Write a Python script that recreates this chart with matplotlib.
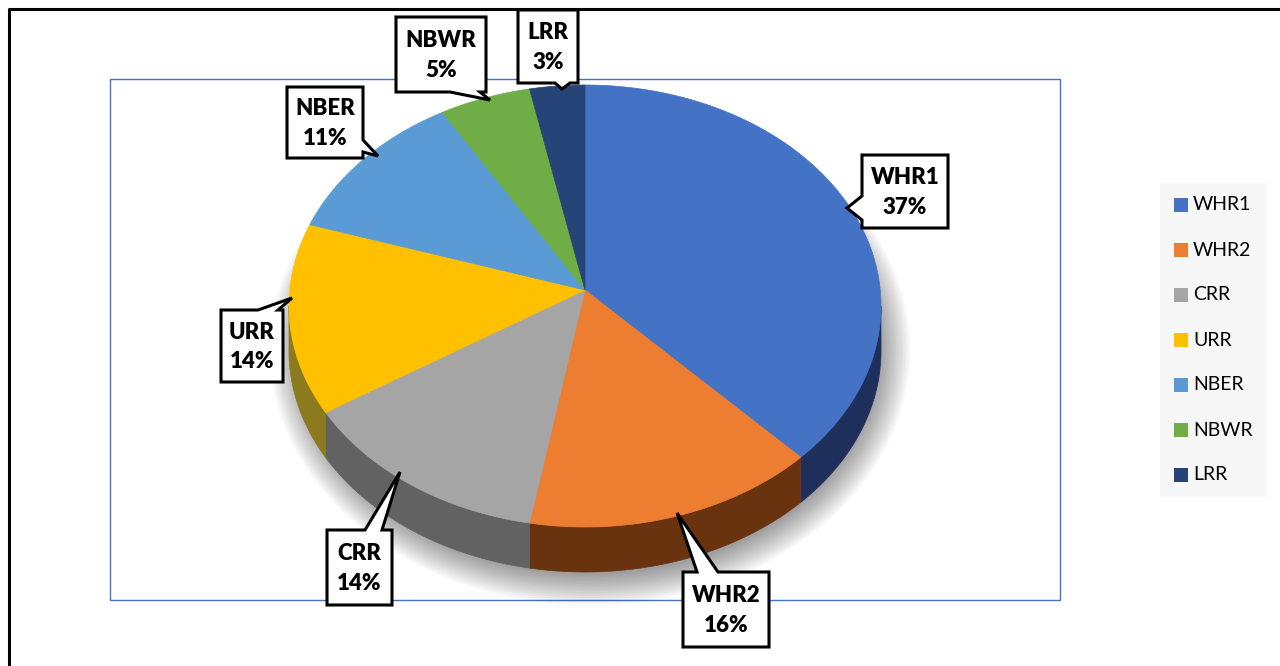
import numpy as np
import matplotlib.pyplot as plt
from matplotlib.patches import Polygon, Ellipse, Rectangle

# data
labels = ["WHR1", "WHR2", "CRR", "URR", "NBER", "NBWR", "LRR"]
values = [37, 16, 14, 14, 11, 5, 3]
colors = ["#4472C4", "#ED7D31", "#A5A5A5", "#FFC000", "#5B9BD5", "#70AD47", "#264478"]
side_colors = ["#1E2F5C", "#6A3310", "#626262", "#8C7A1E", "#2F5C86", "#3E6628", "#14243F"]

# callout layout: box (x0, y0, x1, y1), side with pointer, base (a, b), tip
callouts = [
    ((862, 155, 948, 228), "left", (196, 220), (847, 208)),
    ((683, 572, 769, 647), "top", (697, 718), (677, 513)),
    ((327, 530, 392, 605), "top", (365, 382), (400, 472)),
    ((221, 310, 283, 382), "top", (258, 278), (292, 298)),
    ((287, 87, 363, 158), "right", (140, 152), (378, 156)),
    ((396, 17, 486, 92), "bottom", (450, 480), (490, 100)),
    ((518, 10, 578, 83), "bottom", (555, 570), (562, 89)),
]

fig = plt.figure(figsize=(12.8, 6.66), dpi=100)
ax = fig.add_axes([0, 0, 1, 1])
ax.set_xlim(0, 1280)
ax.set_ylim(666, 0)
ax.axis("off")

# frames
ax.plot([9, 9, 1280], [666, 9, 9], color="black", lw=2.2, zorder=1)
ax.add_patch(Rectangle((110, 79), 950, 521, fill=False, ec="#4472C4", lw=1, zorder=1))

# pie geometry (apex sits a bit above ellipse centre for perspective)
cx, cy, rx, ry, depth = 585, 306, 296, 221, 45
apex_y = 290

# soft shadow
for k in range(14):
    f = k / 13
    ax.add_patch(Ellipse((590, 350), 2 * (320 - 30 * f), 2 * (255 - 30 * f),
                         color="black", alpha=0.03, lw=0, zorder=2))


def pt(t, dy=0):
    return cx + rx * np.sin(t), cy - ry * np.cos(t) + dy


total = sum(values)
bounds = np.concatenate([[0], np.cumsum(values)]) / total * 2 * np.pi

# side walls (front half only)
for i in range(len(values)):
    t0, t1 = max(bounds[i], np.pi / 2), min(bounds[i + 1], 3 * np.pi / 2)
    if t1 <= t0:
        continue
    t = np.linspace(t0, t1, 150)
    x, y = pt(t)
    xb, yb = pt(t[::-1], depth)
    poly = np.column_stack([np.concatenate([x, xb]), np.concatenate([y, yb])])
    ax.add_patch(Polygon(poly, closed=True, fc=side_colors[i], ec=side_colors[i], lw=0.5, zorder=3))

# top faces
for i in range(len(values)):
    t = np.linspace(bounds[i], bounds[i + 1], 200)
    x, y = pt(t)
    poly = np.column_stack([np.concatenate([[cx], x]), np.concatenate([[apex_y], y])])
    ax.add_patch(Polygon(poly, closed=True, fc=colors[i], ec=colors[i], lw=0.5, zorder=4))

# callouts
for i, (box, side, (a, b), tip) in enumerate(callouts):
    x0, y0, x1, y1 = box
    if side == "top":
        verts = [(x0, y0), (a, y0), tip, (b, y0), (x1, y0), (x1, y1), (x0, y1)]
    elif side == "right":
        verts = [(x0, y0), (x1, y0), (x1, a), tip, (x1, b), (x1, y1), (x0, y1)]
    elif side == "bottom":
        verts = [(x0, y0), (x1, y0), (x1, y1), (b, y1), tip, (a, y1), (x0, y1)]
    else:
        verts = [(x0, y0), (x1, y0), (x1, y1), (x0, y1), (x0, b), tip, (x0, a)]
    ax.add_patch(Polygon(verts, closed=True, fc="white", ec="black", lw=2.2,
                         joinstyle="miter", zorder=6))
    ax.text((x0 + x1) / 2, (y0 + y1) / 2 + 1, f"{labels[i]}\n{values[i]}%",
            ha="center", va="center", fontsize=16, fontweight="heavy",
            family="Lato", linespacing=1.5, zorder=7)

# legend
ax.add_patch(Rectangle((1160, 183), 107, 314, fc="#F7F7F7", ec="none", zorder=1))
for i, lab in enumerate(labels):
    y = 205 + 45 * i
    ax.add_patch(Rectangle((1174, y - 7), 14, 14, fc=colors[i], ec="none", zorder=2))
    ax.text(1193, y, lab, ha="left", va="center", fontsize=14, family="Lato", zorder=2)

fig.savefig("out.png", dpi=100)
